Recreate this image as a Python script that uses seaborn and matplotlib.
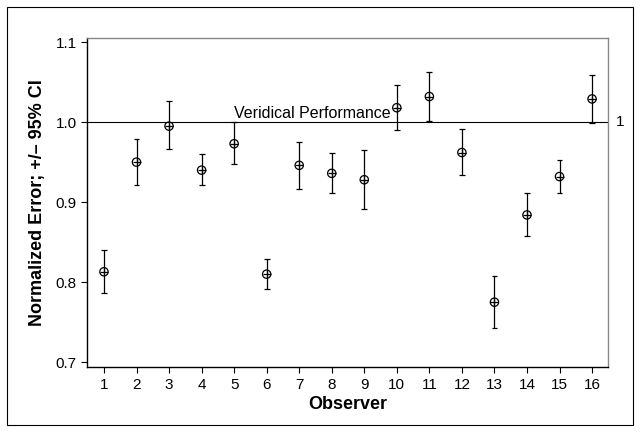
import matplotlib
matplotlib.use("Agg")
import matplotlib.pyplot as plt
import matplotlib.patches as mpatches
import seaborn as sns
import pandas as pd

observers = list(range(1, 17))
means = [0.813, 0.950, 0.995, 0.940, 0.973, 0.810, 0.946, 0.936,
         0.928, 1.018, 1.032, 0.962, 0.775, 0.884, 0.932, 1.029]
ci_low = [0.787, 0.921, 0.966, 0.921, 0.948, 0.791, 0.917, 0.912,
          0.892, 0.990, 1.001, 0.934, 0.743, 0.858, 0.911, 0.999]
ci_high = [0.840, 0.979, 1.026, 0.960, 1.000, 0.829, 0.975, 0.961,
           0.965, 1.047, 1.063, 0.991, 0.808, 0.911, 0.953, 1.059]
reference_value = 1.0
reference_label = "Veridical Performance"

df = pd.DataFrame({"Observer": observers, "Mean": means,
                   "Low": ci_low, "High": ci_high})

sns.set_style("ticks")
plt.rcParams['font.family'] = ['Liberation Sans', 'DejaVu Sans']
plt.rcParams['text.color'] = 'black'
plt.rcParams['axes.labelcolor'] = 'black'
plt.rcParams['xtick.color'] = 'black'
plt.rcParams['ytick.color'] = 'black'

fig = plt.figure(figsize=(6.4, 4.33), dpi=100)
ax = fig.add_axes([0.136, 0.152, 0.814, 0.760])

# reference line
ax.axhline(reference_value, color='black', lw=0.8, zorder=1)

# error bars
ax.vlines(df["Observer"], df["Low"], df["High"], color='black', lw=0.9, zorder=2)
ax.hlines(df["Low"], df["Observer"] - 0.09, df["Observer"] + 0.09, color='black', lw=0.9, zorder=2)
ax.hlines(df["High"], df["Observer"] - 0.09, df["Observer"] + 0.09, color='black', lw=0.9, zorder=2)

# circle-plus markers
sns.scatterplot(data=df, x="Observer", y="Mean", ax=ax, marker='o', s=36,
                facecolor='none', edgecolor='black', linewidth=0.9, zorder=3)
sns.scatterplot(data=df, x="Observer", y="Mean", ax=ax, marker='+', s=36,
                color='black', linewidth=0.9, zorder=3)

ax.set_xlim(0.48, 16.49)
ax.set_ylim(0.69375, 1.105)
ax.set_xticks(observers)
ax.set_yticks([0.7, 0.8, 0.9, 1.0, 1.1])
ax.set_yticklabels(["0.7", "0.8", "0.9", "1.0", "1.1"])
ax.tick_params(direction='out', length=4, width=0.8, labelsize=11,
               colors='black', labelcolor='black')

ax.text(9.8, reference_value + 0.001, reference_label, ha='right', va='bottom',
        fontsize=11.5, color='black')
ax.text(16.85, reference_value, "1", ha='center', va='center', fontsize=11, color='black')

ax.set_xlabel("Observer", fontsize=13, fontweight='bold', labelpad=3, color='black')
ax.set_ylabel("Normalized Error; +/\u2013 95% CI", fontsize=13, fontweight='bold',
              labelpad=7, color='black')

for s in ['left', 'bottom']:
    ax.spines[s].set_color('black')
    ax.spines[s].set_linewidth(1.0)
for s in ['top', 'right']:
    ax.spines[s].set_visible(True)
    ax.spines[s].set_color('#888888')
    ax.spines[s].set_linewidth(1.0)

frame = mpatches.Rectangle((7 / 640, 8 / 433), 626 / 640, 418 / 433,
                           transform=fig.transFigure, fill=False,
                           edgecolor='black', lw=0.8)
fig.patches.append(frame)

fig.savefig("out.png", dpi=100)
